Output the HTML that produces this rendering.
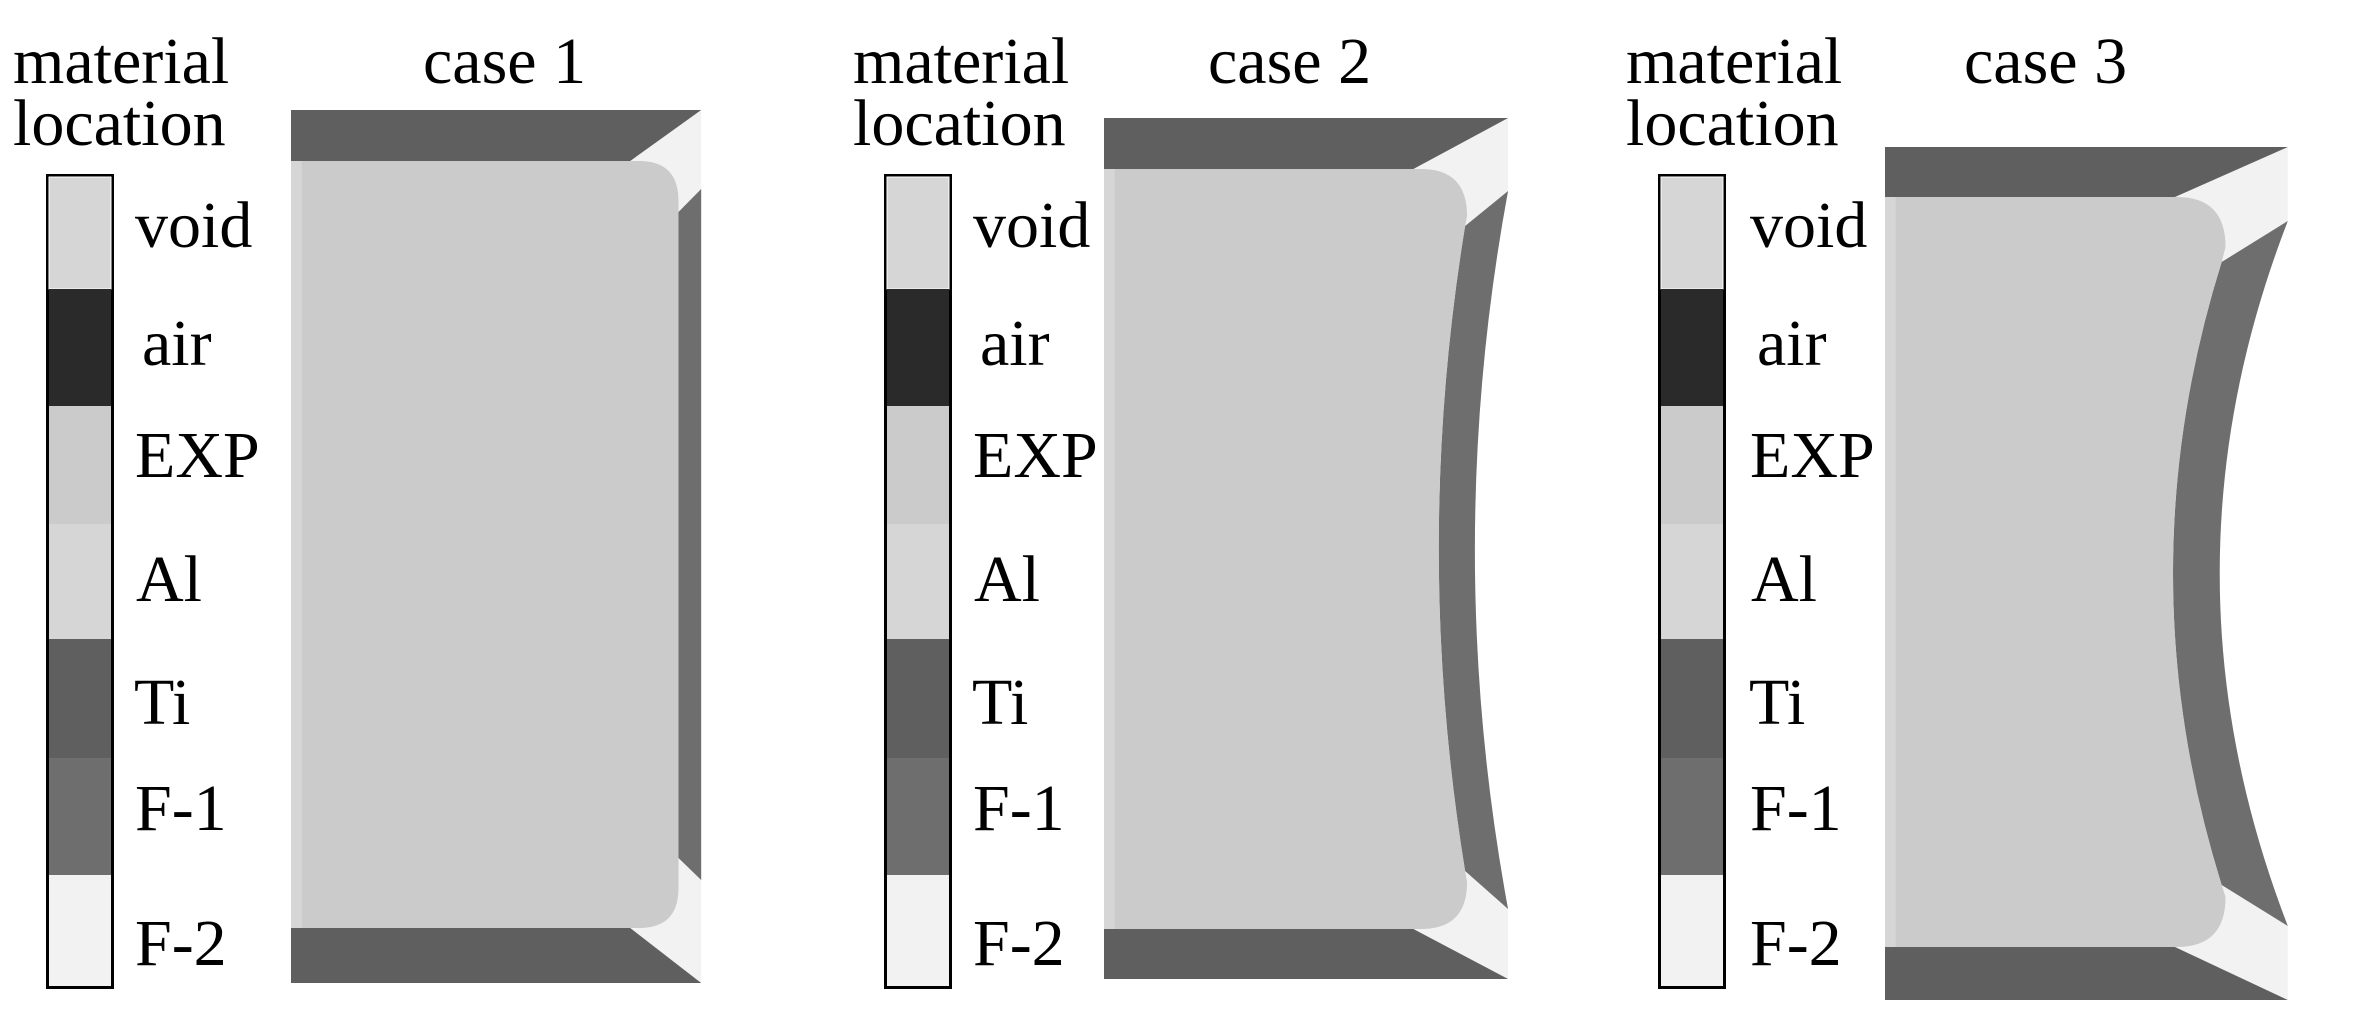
<!DOCTYPE html>
<html><head><meta charset="utf-8"><style>
html,body{margin:0;padding:0;background:#fff;}
svg{display:block;}
text{font-family:"Liberation Serif",serif;font-size:66px;fill:#000;}
</style></head><body>
<svg width="2362" height="1029" viewBox="0 0 2362 1029" xmlns="http://www.w3.org/2000/svg">
<defs>
<g id="leg">
  <rect x="0" y="0" width="68" height="815" fill="#000"/>
  <rect x="3" y="3" width="62" height="112" fill="#d6d6d6" stroke="#fff" stroke-width="1"/>
  <rect x="3" y="115" width="62" height="117" fill="#2a2a2a"/>
  <rect x="3" y="232" width="62" height="118" fill="#cbcbcb"/>
  <rect x="3" y="350" width="62" height="115" fill="#d6d6d6"/>
  <rect x="3" y="465" width="62" height="119" fill="#5f5f5f"/>
  <rect x="3" y="584" width="62" height="117" fill="#6e6e6e"/>
  <rect x="3" y="701" width="62" height="111" fill="#f2f2f2"/>
</g>
</defs>

<!-- Legend 1 -->
<text x="13" y="83">material</text>
<text x="13" y="145">location</text>
<use href="#leg" x="46" y="174"/>
<text x="135" y="247">void</text>
<text x="142" y="365">air</text>
<text x="135" y="477">EXP</text>
<text x="136" y="601">Al</text>
<text x="134" y="724">Ti</text>
<text x="135" y="830">F-1</text>
<text x="135" y="965">F-2</text>

<!-- Case 1 -->
<text x="423" y="83">case 1</text>
<g transform="translate(291,0) scale(0.986,1) translate(-293,0)">
<rect x="620" y="110" width="89" height="873" fill="#f2f2f2"/>
<polygon points="293,110 709,110 637,161 293,161" fill="#5f5f5f"/>
<polygon points="293,928 637,928 709,983 293,983" fill="#5f5f5f"/>
<polygon points="686,212 709,189 709,880 686,858" fill="#6e6e6e"/>
<path d="M293,161 H646 Q686,161 686,201 V888 Q686,928 646,928 H293 Z" fill="#cbcbcb"/>
<rect x="293" y="161" width="11" height="767" fill="#d6d6d6"/>
</g>

<!-- Legend 2 -->
<text x="853" y="83">material</text>
<text x="853" y="145">location</text>
<use href="#leg" x="884" y="174"/>
<text x="973" y="247">void</text>
<text x="980" y="365">air</text>
<text x="973" y="477">EXP</text>
<text x="974" y="601">Al</text>
<text x="972" y="724">Ti</text>
<text x="973" y="830">F-1</text>
<text x="973" y="965">F-2</text>

<!-- Case 2 -->
<text x="1208" y="83">case 2</text>
<g transform="translate(1104,0) scale(0.976,1) translate(-1110,0)">
<rect x="1420" y="118" width="104" height="861" fill="#f2f2f2"/>
<path d="M1524,191 Q1456,550 1524,909 V979 H1560 V118 H1524 Z" fill="#fff"/>
<polygon points="1110,118 1524,118 1427,169 1110,169" fill="#5f5f5f"/>
<polygon points="1110,929 1427,929 1524,979 1110,979" fill="#5f5f5f"/>
<path d="M1524,191 Q1456,550 1524,909 L1480,871 Q1426,548 1480,226 Z" fill="#6e6e6e"/>
<path d="M1110,169 H1435 Q1482,169 1482,216 L1480,226 Q1426,548 1480,871 L1482,882 Q1482,929 1435,929 H1110 Z" fill="#cbcbcb"/>
<rect x="1110" y="169" width="11" height="760" fill="#d6d6d6"/>
</g>

<!-- Legend 3 -->
<text x="1626" y="83">material</text>
<text x="1626" y="145">location</text>
<use href="#leg" x="1658" y="174"/>
<text x="1750" y="247">void</text>
<text x="1757" y="365">air</text>
<text x="1750" y="477">EXP</text>
<text x="1751" y="601">Al</text>
<text x="1749" y="724">Ti</text>
<text x="1750" y="830">F-1</text>
<text x="1750" y="965">F-2</text>

<!-- Case 3 -->
<text x="1964" y="83">case 3</text>
<g transform="translate(1885,0) scale(0.973,1) translate(-1895,0)">
<rect x="2180" y="147" width="129" height="853" fill="#f2f2f2"/>
<path d="M2309,221 Q2169,573 2309,926 V1000 H2340 V147 H2309 Z" fill="#fff"/>
<polygon points="1895,147 2309,147 2193,197 1895,197" fill="#5f5f5f"/>
<polygon points="1895,947 2193,947 2309,1000 1895,1000" fill="#5f5f5f"/>
<path d="M2309,221 Q2169,573 2309,926 L2241,885 Q2141,573 2241,262 Z" fill="#6e6e6e"/>
<path d="M1895,197 H2195 Q2245,197 2245,247 L2241,262 Q2141,573 2241,885 L2245,897 Q2245,947 2195,947 H1895 Z" fill="#cbcbcb"/>
<rect x="1895" y="197" width="11" height="750" fill="#d6d6d6"/>
</g>
</svg>
</body></html>
